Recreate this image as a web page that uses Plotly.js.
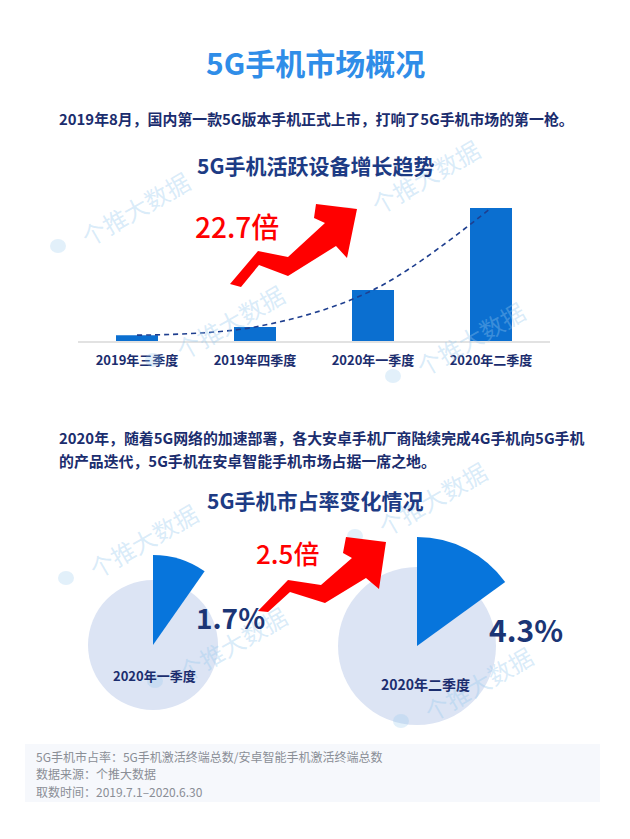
<!DOCTYPE html>
<html>
<head>
<meta charset="utf-8">
<script src="https://cdn.plot.ly/plotly-3.0.1.min.js"></script>
<style>
  html, body { margin: 0; padding: 0; background: #ffffff; }
  #chart { width: 630px; height: 839px; }
</style>
</head>
<body>
<div id="chart"></div>
<script>
// ---------- data ----------
const quarters = ['2019年三季度', '2019年四季度', '2020年一季度', '2020年二季度'];
const activeDevices = [1.0, 2.4, 8.7, 22.7];      // relative to 2019 Q3
const growthLabel = '22.7倍';

const shareQuarters = ['2020年一季度', '2020年二季度'];
const shareLabels = ['1.7%', '4.3%'];
const shareSectorDeg = [35, 54];                  // drawn sector span
const shareGrowthLabel = '2.5倍';

const pageTitle = '5G手机市场概况';
const intro1 = '2019年8月，国内第一款5G版本手机正式上市，打响了5G手机市场的第一枪。';
const intro2a = '2020年，随着5G网络的加速部署，各大安卓手机厂商陆续完成4G手机向5G手机';
const intro2b = '的产品迭代，5G手机在安卓智能手机市场占据一席之地。';
const chart1Title = '5G手机活跃设备增长趋势';
const chart2Title = '5G手机市占率变化情况';
const footLines = ['5G手机市占率：5G手机激活终端总数/安卓智能手机激活终端总数', '数据来源：个推大数据', '取数时间：2019.7.1–2020.6.30'];
const watermark = '个推大数据';

// ---------- helpers (page pixels -> paper) ----------
const W = 630, H = 839;
const px = x => x / W;
const py = y => 1 - y / H;
const FONT = '"Noto Sans CJK SC", "Noto Sans", sans-serif';
const NAVY = '#1b2d6e';

function pieDomain(cx, cy, r) {
  return { x: [px(cx - r), px(cx + r)], y: [py(cy + r), py(cy - r)] };
}
function pathFrom(points) {
  return 'M ' + points.map(p => px(p[0]).toFixed(5) + ',' + py(p[1]).toFixed(5)).join(' L ') + ' Z';
}
function ann(text, x, y, opts) {
  return Object.assign({
    text: text, xref: 'paper', yref: 'paper', x: px(x), y: py(y),
    xanchor: 'center', yanchor: 'middle', showarrow: false,
    font: { family: FONT, size: 14, color: NAVY }
  }, opts || {});
}

// ---------- traces ----------
const traces = [];
traces.push({
  type: 'bar', x: quarters, y: activeDevices, xaxis: 'x', yaxis: 'y',
  marker: { color: '#0b6fd0', line: { width: 0 } }, hoverinfo: 'skip'
});
traces.push({
  type: 'scatter', mode: 'lines', x: quarters, y: activeDevices, xaxis: 'x', yaxis: 'y',
  line: { color: '#1f3f8f', width: 1.6, dash: '5px,4px', shape: 'spline', smoothing: 1.0 },
  hoverinfo: 'skip'
});

const pieGeom = [
  { cx: 153, cy: 645, rBg: 65, rSec: 90 },
  { cx: 417, cy: 646, rBg: 79, rSec: 109 }
];
pieGeom.forEach((g, i) => {
  traces.push({
    type: 'pie', values: [1], labels: ['bg' + i], domain: pieDomain(g.cx, g.cy, g.rBg),
    marker: { colors: ['#dce4f4'], line: { width: 0 } },
    textinfo: 'none', hoverinfo: 'skip', showlegend: false, sort: false
  });
  traces.push({
    type: 'pie', values: [shareSectorDeg[i], 360 - shareSectorDeg[i]],
    labels: ['share' + i, 'rest' + i], domain: pieDomain(g.cx, g.cy, g.rSec),
    marker: { colors: ['#0775dc', 'rgba(0,0,0,0)'], line: { width: 0 } },
    direction: 'clockwise', rotation: 0, sort: false,
    textinfo: 'none', hoverinfo: 'skip', showlegend: false
  });
});

// ---------- decorations ----------
const arrow1 = [[316,204],[357,209],[347,258],[336,246],[288,276],[259,265],[241,287],[230,284],[258,251],[288,257],[325,223],[314,218]];
const arrow2 = [[346,537],[386,542],[379,589],[366,578],[325,603],[290,592],[268,612],[258,611],[288,580],[321,585],[352,558],[343,553]];

const WMCOL = 'rgba(150,200,238,0.36)';
const LOGOCOL = 'rgba(150,200,238,0.28)';
const shapes = [
  { type: 'rect', xref: 'paper', yref: 'paper', x0: px(25), x1: px(600), y0: py(802), y1: py(744),
    fillcolor: '#f6f8fc', line: { width: 0 }, layer: 'below' }
];
// watermark centres; small logo blob drawn to the lower-left of each
const wm = [[135,208],[425,176],[230,322],[470,338],[432,498],[143,540],[232,643],[478,683]];
wm.forEach(p => {
  const lx = p[0] - 77, ly = p[1] + 38;
  shapes.push({ type: 'circle', xref: 'paper', yref: 'paper',
    x0: px(lx - 8), x1: px(lx + 8), y0: py(ly + 7), y1: py(ly - 7),
    fillcolor: LOGOCOL, line: { width: 0 } });
});
shapes.push({ type: 'path', xref: 'paper', yref: 'paper', path: pathFrom(arrow1), fillcolor: '#ff0000', line: { width: 0 } });
shapes.push({ type: 'path', xref: 'paper', yref: 'paper', path: pathFrom(arrow2), fillcolor: '#ff0000', line: { width: 0 } });

const annotations = [];
wm.forEach(p => annotations.push(ann(watermark, p[0], p[1], {
  textangle: -30, font: { family: FONT, size: 24, color: WMCOL }
})));

annotations.push(ann(pageTitle, 315, 62, { font: { family: FONT, size: 30, color: '#2f8de8', weight: 'bold' } }));
annotations.push(ann(intro1, 57, 118, { xanchor: 'left', font: { family: FONT, size: 14.9, color: NAVY, weight: 'bold' } }));
annotations.push(ann(chart1Title, 315, 165, { font: { family: FONT, size: 21, color: '#1d3b84', weight: 'bold' } }));
annotations.push(ann(growthLabel, 237, 226, { font: { family: FONT, size: 28, color: '#ff0000', weight: 500 } }));
annotations.push(ann(intro2a, 57, 437, { xanchor: 'left', font: { family: FONT, size: 14.9, color: NAVY, weight: 'bold' } }));
annotations.push(ann(intro2b, 57, 460, { xanchor: 'left', font: { family: FONT, size: 14.9, color: NAVY, weight: 'bold' } }));
annotations.push(ann(chart2Title, 315, 500, { font: { family: FONT, size: 21, color: '#1d3b84', weight: 'bold' } }));
annotations.push(ann(shareGrowthLabel, 287, 552, { font: { family: FONT, size: 26, color: '#ff0000', weight: 500 } }));
annotations.push(ann(shareLabels[0], 230, 617, { font: { family: FONT, size: 28, color: '#1b3575', weight: 'bold' } }));
annotations.push(ann(shareLabels[1], 526, 629, { font: { family: FONT, size: 30, color: '#1b3575', weight: 'bold' } }));
annotations.push(ann(shareQuarters[0], 154, 675, { font: { family: FONT, size: 13, color: NAVY, weight: 'bold' } }));
annotations.push(ann(shareQuarters[1], 425, 684, { font: { family: FONT, size: 14, color: NAVY, weight: 'bold' } }));
footLines.forEach((t, i) => annotations.push(ann(t, 35, 756 + i * 17.5, {
  xanchor: 'left', borderpad: 0, font: { family: FONT, size: 12, color: '#8a8e96' }
})));

const layout = {
  width: W, height: H,
  margin: { l: 0, r: 0, t: 0, b: 0 },
  paper_bgcolor: '#ffffff', plot_bgcolor: 'rgba(0,0,0,0)',
  showlegend: false, font: { family: FONT, color: NAVY },
  bargap: 0.644,
  xaxis: {
    domain: [px(78), px(550)], type: 'category',
    showline: true, linecolor: '#e2e2e2', linewidth: 2,
    ticks: '', showgrid: false, zeroline: false, ticklabelstandoff: 6,
    tickfont: { family: FONT, size: 13, color: NAVY, weight: 'bold' }, fixedrange: true
  },
  yaxis: {
    domain: [py(341), py(194.5)], range: [0, 25],
    visible: false, showgrid: false, zeroline: false, fixedrange: true
  },
  shapes: shapes,
  annotations: annotations
};

Plotly.newPlot('chart', traces, layout, { staticPlot: true, displayModeBar: false });
</script>
</body>
</html>
